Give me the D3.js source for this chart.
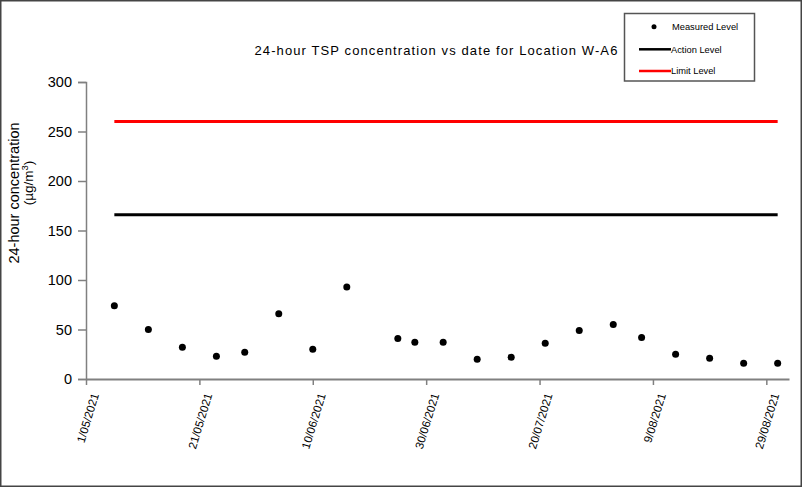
<!DOCTYPE html>
<html>
<head>
<meta charset="utf-8">
<script src="https://cdn.jsdelivr.net/npm/d3@7/dist/d3.min.js"></script>
<style>
  html, body { margin: 0; padding: 0; background: #fff; }
  svg { display: block; font-family: "Liberation Sans", Arial, sans-serif; }
</style>
</head>
<body>
<svg id="chart" width="803" height="488"></svg>
<script>
// ---- data ----
const dates = ["2021-05-06","2021-05-12","2021-05-18","2021-05-24","2021-05-29","2021-06-04","2021-06-10","2021-06-16","2021-06-25","2021-06-28","2021-07-03","2021-07-09","2021-07-15","2021-07-21","2021-07-27","2021-08-02","2021-08-07","2021-08-13","2021-08-19","2021-08-25","2021-08-31"];
const measured = [74, 50, 32, 23, 27, 66, 30, 93, 41, 37, 37, 20, 22, 36, 49, 55, 42, 25, 21, 16, 16];
const actionLevel = 166;
const limitLevel = 260;
const xTickDates = ["2021-05-01","2021-05-21","2021-06-10","2021-06-30","2021-07-20","2021-08-09","2021-08-29"];
const yTicks = [0, 50, 100, 150, 200, 250, 300];
const title = "24-hour TSP concentration vs date for Location W-A6";
const legendLabels = ["Measured Level", "Action Level", "Limit Level"];

const parse = d3.utcParse("%Y-%m-%d");
const fmt = d => `${d.getUTCDate()}/${String(d.getUTCMonth()+1).padStart(2,"0")}/${d.getUTCFullYear()}`;

const svg = d3.select("#chart");
const W = 803, H = 488;

// outer border
svg.append("rect").attr("x", 0.75).attr("y", 0.75).attr("width", W - 2.5).attr("height", H - 2.5)
  .attr("fill", "#fff").attr("stroke", "#444").attr("stroke-width", 1.5);

const x = d3.scaleUtc().domain([parse("2021-05-01"), parse("2021-09-02")]).range([86, 789]);
const y = d3.scaleLinear().domain([0, 300]).range([379, 82]);

// title
svg.append("text").attr("x", 436.5).attr("y", 54.5).attr("text-anchor", "middle")
  .attr("font-size", 13).attr("letter-spacing", 1.1).attr("fill", "#000").text(title);

// y axis
const yAxis = svg.append("g").attr("transform", "translate(86,0)")
  .call(d3.axisLeft(y).tickValues(yTicks).tickSize(8).tickPadding(6));
yAxis.select(".domain").attr("stroke", "#808080").attr("stroke-width", 1.5);
yAxis.selectAll(".tick line").attr("stroke", "#808080").attr("stroke-width", 1.5);
yAxis.selectAll(".tick text").attr("font-size", 14.5).attr("fill", "#000")
  .attr("font-family", "Liberation Sans, Arial, sans-serif");

// x axis
const xAxis = svg.append("g").attr("transform", "translate(0,379)")
  .call(d3.axisBottom(x).tickValues(xTickDates.map(parse)).tickFormat(fmt).tickSize(6).tickSizeOuter(0));
xAxis.select(".domain").attr("stroke", "#808080").attr("stroke-width", 2);
xAxis.selectAll(".tick line").attr("stroke", "#808080").attr("stroke-width", 1.5);
xAxis.selectAll(".tick text").attr("font-size", 11.5).attr("fill", "#000")
  .attr("font-family", "Liberation Sans, Arial, sans-serif")
  .attr("text-anchor", "end").attr("dx", 0).attr("dy", 0)
  .attr("transform", "translate(4,13) rotate(-73)");

// y axis title
svg.append("text").attr("transform", "translate(18.5,193) rotate(-90)")
  .attr("text-anchor", "middle").attr("font-size", 14.5).attr("fill", "#000")
  .text("24-hour concentration");
const yt2 = svg.append("text").attr("transform", "translate(33,183) rotate(-90)")
  .attr("text-anchor", "middle").attr("font-size", 13.5).attr("fill", "#000");
yt2.append("tspan").text("(µg/m");
yt2.append("tspan").attr("font-size", 9.5).attr("dy", -5).text("3");
yt2.append("tspan").attr("dy", 5).text(")");

// level lines, spanning first to last measurement
const first = parse(dates[0]), last = parse(dates[dates.length - 1]);
svg.append("line").attr("x1", x(first)).attr("x2", x(last))
  .attr("y1", y(limitLevel)).attr("y2", y(limitLevel))
  .attr("stroke", "#ff0000").attr("stroke-width", 3);
svg.append("line").attr("x1", x(first)).attr("x2", x(last))
  .attr("y1", y(actionLevel)).attr("y2", y(actionLevel))
  .attr("stroke", "#000").attr("stroke-width", 3);

// points
svg.append("g").selectAll("circle").data(dates.map((d, i) => ({ d: parse(d), v: measured[i] })))
  .join("circle").attr("cx", p => x(p.d)).attr("cy", p => y(p.v)).attr("r", 3.5).attr("fill", "#000");

// legend
const lg = svg.append("g");
lg.append("rect").attr("x", 624.5).attr("y", 13.5).attr("width", 130).attr("height", 67.5)
  .attr("fill", "#fff").attr("stroke", "#555").attr("stroke-width", 1.5);
lg.append("circle").attr("cx", 654).attr("cy", 26.7).attr("r", 2.5).attr("fill", "#000");
lg.append("line").attr("x1", 639).attr("x2", 671).attr("y1", 49.3).attr("y2", 49.3)
  .attr("stroke", "#000").attr("stroke-width", 2.5);
lg.append("line").attr("x1", 639).attr("x2", 671).attr("y1", 71).attr("y2", 71)
  .attr("stroke", "#ff0000").attr("stroke-width", 2.5);
const ly = [26.7, 49.3, 71];
lg.selectAll("text.lt").data(legendLabels).join("text").attr("class", "lt")
  .attr("x", (d, i) => i === 0 ? 672 : 671).attr("y", (d, i) => ly[i] + 3.2)
  .attr("font-size", 9.3).attr("fill", "#000").text(d => d);
</script>
</body>
</html>
